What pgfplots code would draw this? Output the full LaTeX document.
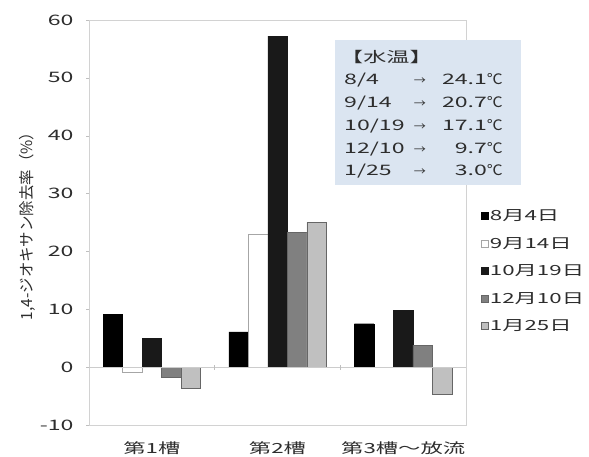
\documentclass[border=0pt]{standalone}
\usepackage{fontspec}
\setmainfont{Noto Sans CJK JP}[FakeStretch=1.6]
\newfontfamily\ylfont{Noto Sans CJK JP}
\newfontfamily\degfont{Noto Sans CJK JP}[FakeStretch=1.1]
\usepackage{pgfplots}
\pgfplotsset{compat=1.18}
\definecolor{boxblue}{RGB}{219,229,241}
\definecolor{c1}{RGB}{0,0,0}
\definecolor{c3}{RGB}{25,25,25}
\definecolor{c4}{RGB}{128,128,128}
\definecolor{c5}{RGB}{192,192,192}
\definecolor{txt}{RGB}{45,45,45}
\begin{document}
\begin{tikzpicture}[x=1bp,y=1bp]
\path[use as bounding box] (0,0) rectangle (589,457);
\pgfplotsset{sq/.style={legend image code/.code={\fill[##1] (0bp,-3.5bp) rectangle (7bp,3.5bp);}}}
\begin{axis}[
  at={(89bp,32bp)}, anchor=south west,
  scale only axis, width=377bp, height=405bp,
  xmin=-0.5, xmax=2.5, ymin=-10, ymax=60,
  ytick={-10,0,10,20,30,40,50,60},
  xtick={0,1,2}, xticklabels={第1槽,第2槽,第3槽～放流},
  xtick style={draw=none},
  ytick pos=left, tick align=outside, major tick length=3bp,
  axis line style={gray!35}, ytick style={gray!50},
  /pgf/number format/assume math mode=true,
  yticklabel style={font=\fontsize{14.5}{16}\selectfont, xshift=-9bp, text=txt},
  xticklabel style={font=\fontsize{14}{16}\selectfont, yshift=-10bp, text=txt},
  ylabel={\ylfont 1,4-ジオキサン除去率（\%）},
  ylabel style={font=\fontsize{15.5}{17}\selectfont, text=txt},
  ylabel shift=-2bp,
  ybar=0pt, bar width=19.5bp,
  legend style={at={(1.03,0.542)}, anchor=north west, draw=none, fill=none,
     font=\fontsize{14}{15}\selectfont, text=txt, row sep=11bp, legend cell align=left,
     /tikz/every even column/.append style={column sep=0bp}},
]
\addplot[sq, fill=c1, draw=c1] coordinates {(0,9.1) (1,6.1) (2,7.5)};
\addplot[sq, fill=white, draw=gray!70] coordinates {(0,-0.9) (1,22.9)};
\addplot[sq, fill=c3, draw=c3] coordinates {(0,5.0) (1,57.2) (2,9.8)};
\addplot[sq, fill=c4, draw=gray!80!black] coordinates {(0,-1.7) (1,23.3) (2,3.8)};
\addplot[sq, fill=c5, draw=gray!80!black] coordinates {(0,-3.6) (1,25.0) (2,-4.6)};
\legend{8月4日,9月14日,10月19日,12月10日,1月25日}
\draw[gray!40] (axis cs:-0.5,0) -- (axis cs:2.5,0);
\draw[gray!50] (axis cs:0.5,-0.45) -- (axis cs:0.5,0.45);
\draw[gray!50] (axis cs:1.5,-0.45) -- (axis cs:1.5,0.45);
\end{axis}
\fill[boxblue] (335,272) rectangle (521,417);
\begin{scope}[every node/.style={inner sep=0pt, text=txt, font=\fontsize{14.5}{16}\selectfont}]
\node[anchor=base west] at (340,394) {【水温】};
\node[anchor=base west] at (344,372) {8/4};
\node[anchor=base west] at (344,349.25) {9/14};
\node[anchor=base west] at (344,326.5) {10/19};
\node[anchor=base west] at (344,303.75) {12/10};
\node[anchor=base west] at (344,281) {1/25};
\foreach \yy in {372,349.25,326.5,303.75,281} {\node[anchor=base] at (420,\yy) {\degfont\fontsize{11}{12}\selectfont →};}
\node[anchor=base east] at (503,372) {24.1\degfont ℃};
\node[anchor=base east] at (503,349.25) {20.7\degfont ℃};
\node[anchor=base east] at (503,326.5) {17.1\degfont ℃};
\node[anchor=base east] at (503,303.75) {9.7\degfont ℃};
\node[anchor=base east] at (503,281) {3.0\degfont ℃};
\end{scope}
\end{tikzpicture}
\end{document}
